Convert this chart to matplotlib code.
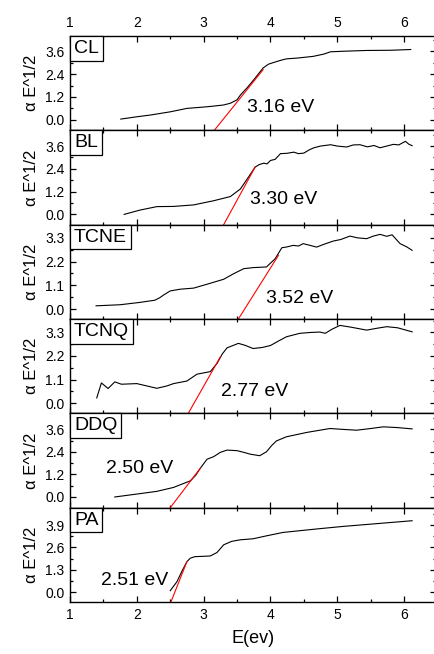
import matplotlib
matplotlib.use("Agg")
import matplotlib.pyplot as plt
from matplotlib.ticker import MultipleLocator, AutoMinorLocator
from matplotlib.offsetbox import AnchoredText

plt.rcParams['font.family'] = ['Liberation Sans', 'DejaVu Sans']

samples = ["CL", "BL", "TCNE", "TCNQ", "DDQ", "PA"]

# (alpha*E)^1/2 curves, photon energy in eV
cl_e = [1.76, 2.0, 2.2, 2.5, 2.75, 3.0, 3.15, 3.3, 3.4, 3.5, 3.55, 3.65, 3.75, 3.89, 3.97, 4.04,
        4.15, 4.24, 4.4, 4.64, 4.8, 4.9, 5.1, 5.44, 5.8, 6.1]
cl_y = [0.04, 0.16, 0.25, 0.42, 0.6, 0.67, 0.72, 0.78, 0.87, 1.05, 1.3, 1.68, 2.1, 2.72, 2.92, 3.0,
        3.12, 3.2, 3.24, 3.33, 3.45, 3.57, 3.6, 3.64, 3.65, 3.69]

bl_e = [1.81, 2.05, 2.3, 2.55, 2.85, 3.15, 3.4, 3.55, 3.67, 3.77, 3.83, 3.9, 3.95, 4.0, 4.07, 4.15,
        4.25, 4.35, 4.42, 4.5, 4.58, 4.65, 4.75, 4.9, 5.0, 5.14, 5.24, 5.34, 5.45, 5.55, 5.64,
        5.74, 5.84, 5.92, 6.02, 6.07, 6.12]
bl_y = [0.0, 0.23, 0.41, 0.42, 0.5, 0.72, 0.94, 1.34, 1.96, 2.49, 2.62, 2.7, 2.66, 2.84, 2.9, 3.2,
        3.22, 3.28, 3.2, 3.23, 3.4, 3.51, 3.6, 3.67, 3.6, 3.55, 3.66, 3.67, 3.56, 3.63, 3.51,
        3.6, 3.69, 3.66, 3.85, 3.7, 3.62]

tcne_e = [1.39, 1.75, 2.05, 2.27, 2.34, 2.4, 2.5, 2.65, 2.85, 3.05, 3.3, 3.45, 3.6, 3.74, 3.94,
          4.07, 4.17, 4.25, 4.34, 4.42, 4.49, 4.58, 4.69, 4.8, 4.94, 5.05, 5.19, 5.3, 5.44, 5.54,
          5.64, 5.74, 5.82, 5.94, 6.04, 6.12]
tcne_y = [0.15, 0.2, 0.31, 0.41, 0.52, 0.65, 0.84, 0.92, 0.97, 1.15, 1.38, 1.64, 1.87, 1.92, 1.95,
          2.33, 2.84, 2.88, 2.95, 2.92, 3.03, 2.96, 2.87, 3.0, 3.15, 3.22, 3.38, 3.3, 3.26, 3.38,
          3.46, 3.37, 3.44, 3.03, 2.88, 2.72]

tcnq_e = [1.4, 1.47, 1.57, 1.67, 1.77, 2.0, 2.15, 2.3, 2.45, 2.55, 2.75, 2.9, 3.1, 3.2, 3.28, 3.35,
          3.52, 3.62, 3.74, 3.88, 4.0, 4.12, 4.24, 4.44, 4.6, 4.74, 4.82, 4.92, 5.04, 5.2, 5.44,
          5.6, 5.74, 5.9, 6.12]
tcnq_y = [0.24, 0.94, 0.68, 0.99, 0.88, 0.91, 0.8, 0.69, 0.8, 0.91, 1.03, 1.35, 1.47, 1.85, 2.3, 2.58,
          2.79, 2.7, 2.55, 2.6, 2.69, 2.9, 3.1, 3.26, 3.3, 3.32, 3.26, 3.45, 3.63, 3.55, 3.41,
          3.5, 3.57, 3.52, 3.33]

ddq_e = [1.67, 2.05, 2.3, 2.55, 2.8, 2.88, 2.95, 3.05, 3.15, 3.25, 3.35, 3.5, 3.6, 3.7, 3.84, 3.94,
         4.02, 4.09, 4.24, 4.54, 4.89, 5.1, 5.29, 5.5, 5.69, 5.9, 6.12]
ddq_y = [0.0, 0.18, 0.3, 0.51, 0.86, 1.15, 1.53, 2.01, 2.15, 2.38, 2.5, 2.47, 2.38, 2.28, 2.2, 2.41,
         2.75, 2.99, 3.21, 3.44, 3.65, 3.6, 3.56, 3.65, 3.74, 3.7, 3.63]

pa_e = [2.5, 2.6, 2.68, 2.75, 2.8, 2.87, 3.0, 3.1, 3.2, 3.3, 3.42, 3.55, 3.74, 3.94, 4.19, 4.69,
        5.09, 5.59, 6.12]
pa_y = [0.08, 0.6, 1.25, 1.77, 1.97, 2.06, 2.08, 2.1, 2.3, 2.75, 2.95, 3.04, 3.1, 3.27, 3.47, 3.67,
        3.82, 3.98, 4.15]

curves_e = [cl_e, bl_e, tcne_e, tcnq_e, ddq_e, pa_e]
curves_y = [cl_y, bl_y, tcne_y, tcnq_y, ddq_y, pa_y]

# optical gaps (where the linear fit meets the energy axis) and the upper end of each fit line
gaps = [3.16, 3.30, 3.52, 2.77, 2.50, 2.51]
fit_end_e = [3.89, 3.77, 4.12, 3.25, 2.95, 2.75]
fit_end_y = [2.63, 2.49, 2.49, 2.16, 1.53, 1.77]

y_steps = [1.2, 1.2, 1.1, 1.1, 1.2, 1.3]
y_lims = [(-0.55, 4.40), (-0.54, 4.43), (-0.46, 3.91), (-0.48, 3.93), (-0.57, 4.46), (-0.58, 4.91)]
label_pos = [(3.65, 0.67), (3.70, 0.81), (3.94, 0.49), (3.26, 0.52), (1.54, 1.53), (1.47, 0.70)]

fig, axes = plt.subplots(6, 1, figsize=(4.34, 6.54), dpi=100, sharex=True)
fig.subplots_adjust(left=0.1613, right=1.005, top=0.945, bottom=0.0795, hspace=0)

for i, ax in enumerate(axes):
    ax.plot(curves_e[i], curves_y[i], color='black', lw=0.8)

    # fit line drawn from the energy axis (panel bottom) up to the end point
    y0 = y_lims[i][0]
    ax.plot([gaps[i], fit_end_e[i]], [y0, fit_end_y[i]], color='red', lw=0.8)

    tx, ty = label_pos[i]
    ax.text(tx, ty, f"{gaps[i]:.2f} eV", fontsize=14, ha='left', va='center')

    tag = AnchoredText(samples[i], loc='upper left', borderpad=0, pad=0.2, frameon=True,
                       prop=dict(size=14))
    tag.patch.set_linewidth(0.9)
    tag.patch.set_boxstyle('square,pad=0')
    ax.add_artist(tag)

    ax.set_xlim(1, 6.48)
    ax.set_ylim(*y_lims[i])
    ax.yaxis.set_major_locator(MultipleLocator(y_steps[i]))
    ax.yaxis.set_minor_locator(AutoMinorLocator(2))
    ax.xaxis.set_major_locator(MultipleLocator(1))
    ax.xaxis.set_minor_locator(AutoMinorLocator(2))
    ax.yaxis.set_major_formatter(plt.FuncFormatter(lambda v, p: f"{v:.1f}"))

    ax.tick_params(which='both', direction='in', top=True, right=True, width=0.9,
                   labelsize=10, pad=4)
    ax.tick_params(which='major', length=4.5)
    ax.tick_params(which='minor', length=2.5)
    ax.tick_params(axis='x', labeltop=(i == 0), labelbottom=(i == len(axes) - 1))
    for s in ax.spines.values():
        s.set_linewidth(1.0)

    ax.set_ylabel("α E^1/2", fontsize=12, labelpad=4)

axes[-1].set_xlabel("E(ev)", fontsize=13, labelpad=6)
fig.align_ylabels(axes)

fig.savefig("out.png", dpi=100)
